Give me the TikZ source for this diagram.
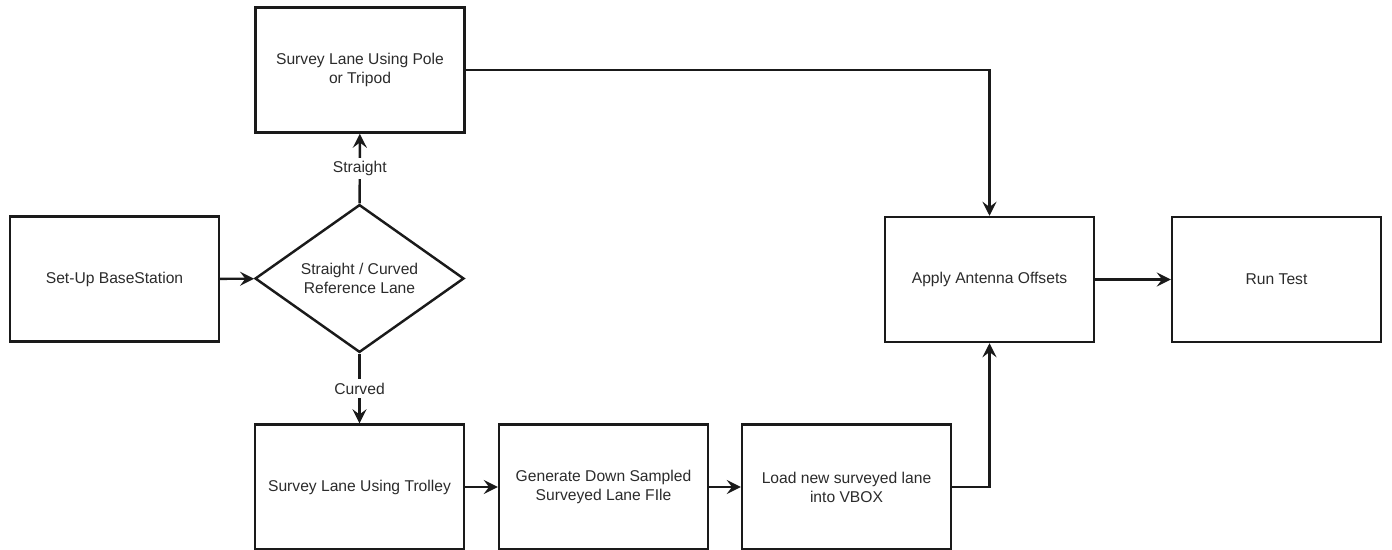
\documentclass[tikz,border=0pt]{standalone}
\usepackage{fontspec}
\setmainfont{Liberation Sans}
\usetikzlibrary{arrows.meta,shapes.geometric}
\definecolor{linec}{HTML}{1A1A1A}
\definecolor{textc}{HTML}{2B2B2B}

\begin{document}
\begin{tikzpicture}[x=0.02cm,y=-0.02cm,>={Stealth[length=8pt,width=8pt,inset=3pt]},
    font=\fontsize{8.9}{10.8}\selectfont,
    box/.style={draw=linec,line width=1.4pt,minimum width=4.18cm,minimum height=2.5cm,
      align=center,text=textc},
    choice/.style={diamond,draw=linec,line width=1.4pt,minimum width=4.18cm,
      minimum height=2.82cm,inner sep=0pt,align=center,text=textc},
    flow/.style={->,line width=1.4pt,draw=linec},
    tag/.style={fill=white,text=textc,inner sep=2pt}]
  % frame of the picture
  \useasboundingbox (0,0) rectangle (1392,550);
  % steps
  \node[box] (base) at (114.5,279) {Set-Up BaseStation};
  \node[choice] (lane) at (359.5,278.5) {Straight / Curved\\Reference Lane};
  \node[box] (pole) at (360,70) {Survey Lane Using Pole\\or Tripod};
  \node[box] (trolley) at (359.5,487) {Survey Lane Using Trolley};
  \node[box] (sample) at (603.5,487) {Generate Down Sampled\\Surveyed Lane FIle};
  \node[box] (vbox) at (846.5,487) {Load new surveyed lane\\into VBOX};
  \node[box] (offsets) at (989.5,279.5) {Apply Antenna Offsets};
  \node[box] (run) at (1276.5,279.5) {Run Test};
  % connectors
  \draw[flow] (base) -- (lane);
  \draw[flow] (lane) -- node[tag] {Straight} (pole);
  \draw[flow] (lane) -- node[tag] {Curved} (trolley);
  \draw[flow] (trolley) -- (sample);
  \draw[flow] (sample) -- (vbox);
  \draw[flow] (pole.east) -| (offsets.north);
  \draw[flow] (vbox.east) -| (offsets.south);
  \draw[flow] (offsets) -- (run);
\end{tikzpicture}
\end{document}
